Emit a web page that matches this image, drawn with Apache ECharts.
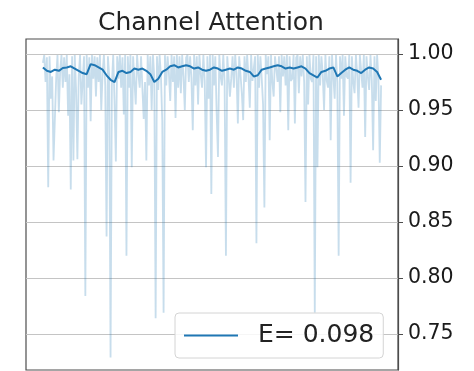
<!DOCTYPE html>
<html>
<head>
<meta charset="utf-8">
<script src="https://cdn.jsdelivr.net/npm/echarts@6/dist/echarts.min.js"></script>
<style>
  html, body { margin: 0; padding: 0; background: #fff; }
  #chart { width: 474px; height: 371px; }
</style>
</head>
<body>
<div id="chart"></div>
<script>
// raw channel attention weights (256 channels)
const attention = [
  0.992, 0.999, 0.975, 0.997, 0.881, 0.998, 0.960, 0.980, 0.905, 0.906, 0.978, 0.999, 0.948, 0.985, 0.999, 0.970,
  0.997, 0.975, 0.999, 0.945, 0.982, 0.879, 0.998, 0.905, 0.999, 0.968, 0.906, 0.980, 0.999, 0.955, 0.976, 0.998,
  0.784, 0.999, 0.970, 0.997, 0.940, 0.999, 0.978, 0.998, 0.962, 0.997, 0.975, 0.999, 0.950, 0.983, 0.999, 0.972,
  0.837, 0.998, 0.980, 0.729, 0.972, 0.999, 0.958, 0.904, 0.998, 0.978, 0.999, 0.970, 0.997, 0.946, 0.999, 0.820,
  0.998, 0.970, 0.999, 0.899, 0.998, 0.976, 0.955, 0.999, 0.982, 0.970, 0.998, 0.999, 0.942, 0.975, 0.905, 0.999,
  0.972, 0.998, 0.950, 0.999, 0.978, 0.764, 0.998, 0.968, 0.999, 0.980, 0.940, 0.769, 0.999, 0.972, 0.998, 0.983,
  0.958, 0.999, 0.975, 0.998, 0.943, 0.999, 0.970, 0.998, 0.965, 0.999, 0.980, 0.950, 0.997, 0.999, 0.975, 0.998,
  0.978, 0.932, 0.999, 0.972, 0.998, 0.955, 0.999, 0.982, 0.970, 0.999, 0.976, 0.899, 0.998, 0.960, 0.999, 0.875,
  0.999, 0.972, 0.998, 0.948, 0.908, 0.999, 0.980, 0.972, 0.999, 0.975, 0.820, 0.998, 0.999, 0.962, 0.978, 0.998,
  0.970, 0.999, 0.983, 0.938, 0.998, 0.999, 0.965, 0.941, 0.998, 0.975, 0.999, 0.980, 0.952, 0.999, 0.976, 0.975,
  0.998, 0.831, 0.999, 0.970, 0.998, 0.978, 0.955, 0.863, 0.999, 0.982, 0.998, 0.923, 0.999, 0.975, 0.962, 0.998,
  0.999, 0.975, 0.998, 0.948, 0.999, 0.980, 0.998, 0.972, 0.999, 0.932, 0.998, 0.976, 0.978, 0.999, 0.938, 0.997,
  0.999, 0.965, 0.998, 0.980, 0.999, 0.975, 0.868, 0.998, 0.955, 0.999, 0.978, 0.975, 0.999, 0.769, 0.998, 0.899,
  0.999, 0.972, 0.998, 0.982, 0.950, 0.999, 0.976, 0.970, 0.998, 0.923, 0.999, 0.980, 0.960, 0.999, 0.975, 0.820,
  0.998, 0.978, 0.999, 0.945, 0.998, 0.980, 0.978, 0.999, 0.885, 0.998, 0.975, 0.965, 0.999, 0.982, 0.952, 0.999,
  0.998, 0.970, 0.999, 0.926, 0.998, 0.980, 0.968, 0.999, 0.976, 0.914, 0.998, 0.958, 0.999, 0.978, 0.903, 0.972,
];

// smoothed curve, sampled every 3rd channel (0, 3, ..., 255)
const smoothStep = 3;
const smoothed = [
  0.988, 0.985, 0.984, 0.986, 0.985, 0.9875, 0.988, 0.989, 0.987, 0.985,
  0.983, 0.982, 0.991, 0.990, 0.988, 0.986, 0.981, 0.977, 0.975, 0.984,
  0.985, 0.983, 0.984, 0.987, 0.986, 0.987, 0.985, 0.982, 0.975, 0.978,
  0.984, 0.986, 0.989, 0.990, 0.988, 0.989, 0.990, 0.989, 0.987, 0.988,
  0.986, 0.985, 0.986, 0.988, 0.987, 0.985, 0.986, 0.987, 0.986, 0.988,
  0.987, 0.985, 0.984, 0.980, 0.981, 0.986, 0.987, 0.988, 0.989, 0.990,
  0.989, 0.987, 0.988, 0.987, 0.988, 0.989, 0.987, 0.983, 0.981, 0.979,
  0.984, 0.985, 0.987, 0.988, 0.980, 0.983, 0.986, 0.988, 0.986, 0.985,
  0.983, 0.986, 0.988, 0.987, 0.984, 0.977,
];

const legendLabel = 'E= 0.098';
const yTicks = [0.75, 0.80, 0.85, 0.90, 0.95, 1.00];

const BLUE = '#1f77b4';
const FONT = 'DejaVu Sans';

const chart = echarts.init(document.getElementById('chart'), null, { renderer: 'canvas' });

const rawData = attention.map((v, i) => [i, v]);
const smoothData = smoothed.map((v, i) => [i * smoothStep, v]);

// matplotlib-like 5% x margins around 0..255
const xPad = (attention.length - 1) * 0.05;

chart.setOption({
  animation: false,
  title: {
    text: 'Channel Attention',
    left: 98,
    top: 11,
    padding: 0,
    textStyle: { fontFamily: FONT, fontSize: 25, fontWeight: 'normal', color: '#222' },
  },
  legend: {
    data: [legendLabel],
    left: 175,
    top: 313,
    padding: [10, 9, 10, 9],
    icon: 'rect',
    itemWidth: 54,
    itemHeight: 2,
    selectedMode: false,
    backgroundColor: 'rgba(255,255,255,0.85)',
    borderColor: '#d4d4d4',
    borderWidth: 1,
    borderRadius: 4,
    textStyle: {
      fontFamily: FONT,
      fontSize: 25,
      color: '#222',
      padding: [0, 0, 0, 15],
    },
  },
  grid: {
    left: 26,
    right: 76,
    top: 39,
    bottom: 1,
    show: true,
    borderColor: '#4d4d4d',
    borderWidth: 1.2,
    backgroundColor: 'transparent',
  },
  xAxis: {
    type: 'value',
    min: -xPad,
    max: attention.length - 1 + xPad,
    show: false,
  },
  yAxis: {
    type: 'value',
    position: 'right',
    min: 0.7179,
    max: 1.0134,
    splitNumber: 6,
    axisLine: { show: true, onZero: false, lineStyle: { color: '#4d4d4d', width: 1.2 } },
    axisTick: { show: true, length: 5, customValues: yTicks, lineStyle: { color: '#4d4d4d' } },
    axisLabel: {
      margin: 10,
      fontFamily: FONT,
      fontSize: 20.5,
      color: '#1a1a1a',
      customValues: yTicks,
      formatter: (v) => v.toFixed(2),
    },
    splitLine: { show: true, lineStyle: { color: '#c4c4c4', width: 1 } },
  },
  series: [
    {
      name: 'raw',
      type: 'line',
      data: rawData,
      showSymbol: false,
      symbol: 'none',
      lineStyle: { color: BLUE, width: 1.8, opacity: 0.25 },
      itemStyle: { color: BLUE },
      z: 2,
      silent: true,
    },
    {
      name: legendLabel,
      type: 'line',
      data: smoothData,
      showSymbol: false,
      symbol: 'none',
      lineStyle: { color: BLUE, width: 2 },
      itemStyle: { color: BLUE },
      z: 3,
    },
  ],
});
</script>
</body>
</html>
